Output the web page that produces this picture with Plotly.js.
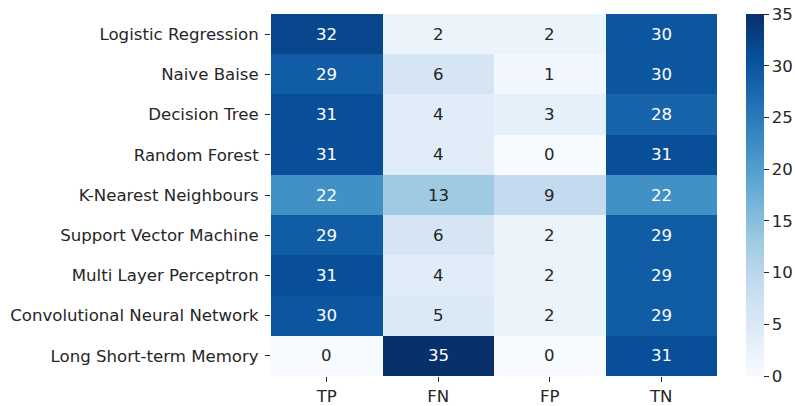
<!DOCTYPE html>
<html><head><meta charset="utf-8">
<script src="https://cdn.plot.ly/plotly-3.0.1.min.js"></script>
<style>body{margin:0;background:#fff}#c{width:795px;height:406px}</style>
</head><body><div id="c"></div>
<script>
const models = ["Logistic Regression","Naive Baise","Decision Tree","Random Forest","K-Nearest Neighbours","Support Vector Machine","Multi Layer Perceptron","Convolutional Neural Network","Long Short-term Memory"];
const metrics = ["TP","FN","FP","TN"];
const TP = [32,29,31,31,22,29,31,30,0];
const FN = [2,6,4,4,13,6,4,5,35];
const FP = [2,1,3,0,9,2,2,2,0];
const TN = [30,30,28,31,22,29,29,29,31];
const colorbarTicks = [0,5,10,15,20,25,30,35];

const blues = [[0,"#f7fbff"],[0.125,"#deebf7"],[0.25,"#c6dbef"],[0.375,"#9ecae1"],[0.5,"#6baed6"],[0.625,"#4292c6"],[0.75,"#2171b5"],[0.875,"#08519c"],[1,"#08306b"]];
const zmin = 0, zmax = 35;
const z = models.map((m,i)=>[TP[i],FN[i],FP[i],TN[i]]);

function hex2rgb(h){return [1,3,5].map(k=>parseInt(h.substr(k,2),16)/255);}
function colorAt(v){
  const t=(v-zmin)/(zmax-zmin);
  for(let k=0;k<blues.length-1;k++){
    const [a,ca]=blues[k],[b,cb]=blues[k+1];
    if(t<=b){const f=(t-a)/(b-a);const A=hex2rgb(ca),B=hex2rgb(cb);return A.map((x,j)=>x+(B[j]-x)*f);}
  }
  return hex2rgb(blues[blues.length-1][1]);
}
function lum(rgb){
  const c=rgb.map(x=>x<=0.03928?x/12.92:Math.pow((x+0.055)/1.055,2.4));
  return 0.2126*c[0]+0.7152*c[1]+0.0722*c[2];
}
const FS = 16.6;
const ann=[];
models.forEach((m,i)=>metrics.forEach((k,j)=>{
  const v=z[i][j];
  ann.push({x:k,y:m,text:String(v),showarrow:false,xref:'x',yref:'y',
    font:{family:'DejaVu Sans',size:FS,color: lum(colorAt(v))>0.408?'#262626':'#ffffff'}});
}));

const trace={type:'heatmap',x:metrics,y:models,z:z,colorscale:blues,zmin:zmin,zmax:zmax,
  xgap:0,ygap:0,hoverinfo:'skip',
  colorbar:{x:1.066,xanchor:'left',xpad:0,ypad:0,y:0.5,yanchor:'middle',len:1,lenmode:'fraction',
    thickness:18,thicknessmode:'pixels',outlinewidth:0,tickmode:'array',tickvals:colorbarTicks,
    ticks:'outside',ticklen:5,tickcolor:'#262626',tickwidth:1,
    tickfont:{family:'DejaVu Sans',size:FS,color:'#262626'}}};

const layout={width:795,height:406,margin:{l:271,r:78,t:14,b:30,autoexpand:false},
  paper_bgcolor:'#fff',plot_bgcolor:'#fff',font:{family:'DejaVu Sans',color:'#262626'},
  xaxis:{type:'category',showgrid:false,zeroline:false,showline:false,ticks:'outside',ticklen:5,
    tickcolor:'#262626',tickfont:{family:'DejaVu Sans',size:FS,color:'#262626'},fixedrange:true},
  yaxis:{type:'category',autorange:'reversed',showgrid:false,zeroline:false,showline:false,ticks:'outside',ticklen:5,
    ticklabelstandoff:3,
    tickcolor:'#262626',tickfont:{family:'DejaVu Sans',size:FS,color:'#262626'},fixedrange:true},
  annotations:ann};
Plotly.newPlot('c',[trace],layout,{staticPlot:true});
</script></body></html>
